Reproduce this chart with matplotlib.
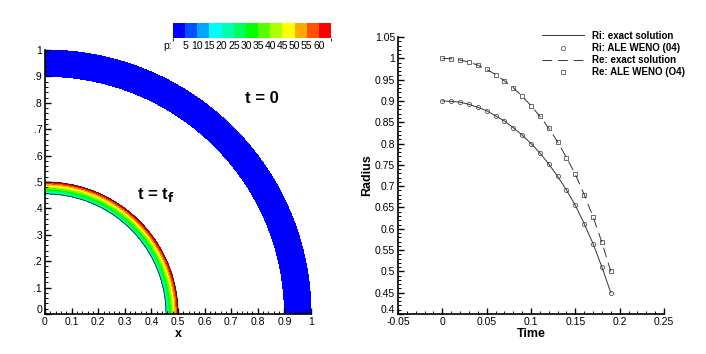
import numpy as np
import matplotlib
matplotlib.use("Agg")
import matplotlib.pyplot as plt
from matplotlib.colors import ListedColormap, BoundaryNorm
from matplotlib.ticker import MultipleLocator, FuncFormatter
import matplotlib.colorbar as mcolorbar
import matplotlib.transforms as mtransforms

plt.rcParams['font.family'] = ['Liberation Sans', 'DejaVu Sans']

# pressure contour levels and colours (13 bands)
p_levels = [0, 5, 10, 15, 20, 25, 30, 35, 40, 45, 50, 55, 60, 70]
p_ticks = [5, 10, 15, 20, 25, 30, 35, 40, 45, 50, 55, 60]
p_colors = ["#0000ff", "#0050ff", "#00a5ff", "#00ffff", "#00ffb0", "#00ff5a",
            "#00ff00", "#55ff00", "#aaff00", "#ffff00", "#ffaa00", "#ff5000", "#ff0000"]

# radial pressure profiles of the shell
r_t0 = [0.9, 1.0]
p_t0 = [2.0, 2.0]
r_tf = [0.455, 0.465, 0.475, 0.485, 0.495, 0.5]
p_tf = [16, 26, 36, 46, 57, 64]

# radius history
time = [0.0, 0.01, 0.02, 0.03, 0.04, 0.05, 0.06, 0.07, 0.08, 0.09,
        0.10, 0.11, 0.12, 0.13, 0.14, 0.15, 0.16, 0.17, 0.18, 0.19]
ri_vals = [0.900, 0.899, 0.897, 0.892, 0.885, 0.877, 0.865, 0.853, 0.837, 0.820,
           0.800, 0.778, 0.752, 0.723, 0.691, 0.655, 0.612, 0.565, 0.510, 0.450]
re_vals = [1.000, 0.999, 0.996, 0.991, 0.984, 0.974, 0.962, 0.947, 0.931, 0.911,
           0.889, 0.864, 0.836, 0.804, 0.767, 0.728, 0.680, 0.628, 0.568, 0.500]

fig = plt.figure(figsize=(7.06, 3.54), dpi=100)
cmap = ListedColormap(p_colors)
norm = BoundaryNorm(p_levels, cmap.N)

# ---- left: pressure field
ax1 = fig.add_axes([45/706, 1-314/354, 266/706, 264/354])
theta = np.linspace(0, np.pi/2, 200)
for rr, pp in [(r_t0, p_t0), (r_tf, p_tf)]:
    R, T = np.meshgrid(rr, theta)
    P = np.tile(pp, (len(theta), 1))
    ax1.contourf(R*np.cos(T), R*np.sin(T), P, levels=p_levels, cmap=cmap, norm=norm)
for rb in [r_tf[0], r_tf[-1]]:
    ax1.plot(rb*np.cos(theta), rb*np.sin(theta), color="#202020", lw=0.6)
ax1.set_xlim(0, 1)
ax1.set_ylim(0, 1)
ax1.text(0.815, 0.815, "t = 0", fontsize=12, fontweight="bold", ha="center", va="center")
ax1.text(0.415, 0.45, r"t = t$_\mathbf{f}$", fontsize=12, fontweight="bold", ha="center", va="center")
ax1.xaxis.set_major_locator(MultipleLocator(0.1))
ax1.xaxis.set_minor_locator(MultipleLocator(0.02))
ax1.yaxis.set_major_locator(MultipleLocator(0.1))
ax1.yaxis.set_minor_locator(MultipleLocator(0.02))
ax1.xaxis.set_major_formatter(FuncFormatter(lambda v, p: "0" if abs(v) < 1e-9 else ("1" if abs(v-1) < 1e-9 else f"{v:.1f}")))
ax1.yaxis.set_major_formatter(FuncFormatter(lambda v, p: "0" if abs(v) < 1e-9 else ("1" if abs(v-1) < 1e-9 else f"{v:.1f}"[1:])))
ax1.set_xlabel("x", fontsize=9, fontweight="bold", labelpad=1)

# colour legend
cax = fig.add_axes([173/706, 1-38/354, 158/706, 15/354])
cb = mcolorbar.ColorbarBase(cax, cmap=cmap, norm=norm, orientation="horizontal",
                            boundaries=p_levels, spacing="uniform", ticks=p_ticks)
cb.outline.set_visible(False)
cax.tick_params(length=0, labelsize=7.5, pad=2)
fig.text(163/706, 1-46/354, "p:", fontsize=7.5, ha="left", va="center")

# ---- right: radius vs time
ax2 = fig.add_axes([398/706, 1-314/354, 266/706, 277/354])
lc = "#333333"
ax2.plot(time, ri_vals, color=lc, lw=0.7, label="Ri: exact solution")
ax2.plot(time, ri_vals, ls="none", marker="o", ms=3, mfc="none", mec=lc, mew=0.5,
         label="Ri: ALE WENO (04)")
ax2.plot(time, re_vals, color=lc, lw=0.7, ls=(0, (10, 6)), label="Re: exact solution")
ax2.plot(time, re_vals, ls="none", marker="s", ms=2.3, mfc="none", mec=lc, mew=0.5,
         label="Re: ALE WENO (O4)")
ax2.set_xlim(-0.05, 0.25)
ax2.set_ylim(0.4, 1.05)
ax2.xaxis.set_major_locator(MultipleLocator(0.05))
ax2.xaxis.set_minor_locator(MultipleLocator(0.01))
ax2.yaxis.set_major_locator(MultipleLocator(0.05))
ax2.yaxis.set_minor_locator(MultipleLocator(0.01))
ax2.xaxis.set_major_formatter(FuncFormatter(lambda v, p: f"{v:.2f}".rstrip("0").rstrip(".") if abs(v) > 1e-9 else "0"))
ax2.yaxis.set_major_formatter(FuncFormatter(lambda v, p: f"{v:.2f}".rstrip("0").rstrip(".")))
ax2.set_xlabel("Time", fontsize=9, fontweight="bold", labelpad=1)
ax2.set_ylabel("Radius", fontsize=9, fontweight="bold", labelpad=1)
leg = fig.legend(loc="upper left", bbox_to_anchor=(538/706, 1-27/354), frameon=False,
                 numpoints=1, handlelength=4.3, handletextpad=0.9, labelspacing=0.22,
                 prop={"size": 7, "weight": "bold"}, borderaxespad=0)

for ax in (ax1, ax2):
    for s in ("top", "right"):
        ax.spines[s].set_visible(False)
    for s in ("left", "bottom"):
        ax.spines[s].set_linewidth(1.2)
    ax.tick_params(which="major", direction="in", length=4.5, width=1.0, labelsize=7.5, pad=2)
    ax.tick_params(which="minor", direction="in", length=2.5, width=0.7)

# lift the lowest y label a bit so it clears the first x label (as in the original)
fig.canvas.draw()
shift = mtransforms.ScaledTranslation(0, 3.5/72, fig.dpi_scale_trans)
for ax, low in ((ax1, "0"), (ax2, "0.4")):
    for tk in ax.yaxis.get_major_ticks():
        if tk.label1.get_text() == low:
            tk.label1.set_transform(tk.label1.get_transform() + shift)

fig.savefig("out.png", dpi=100)
